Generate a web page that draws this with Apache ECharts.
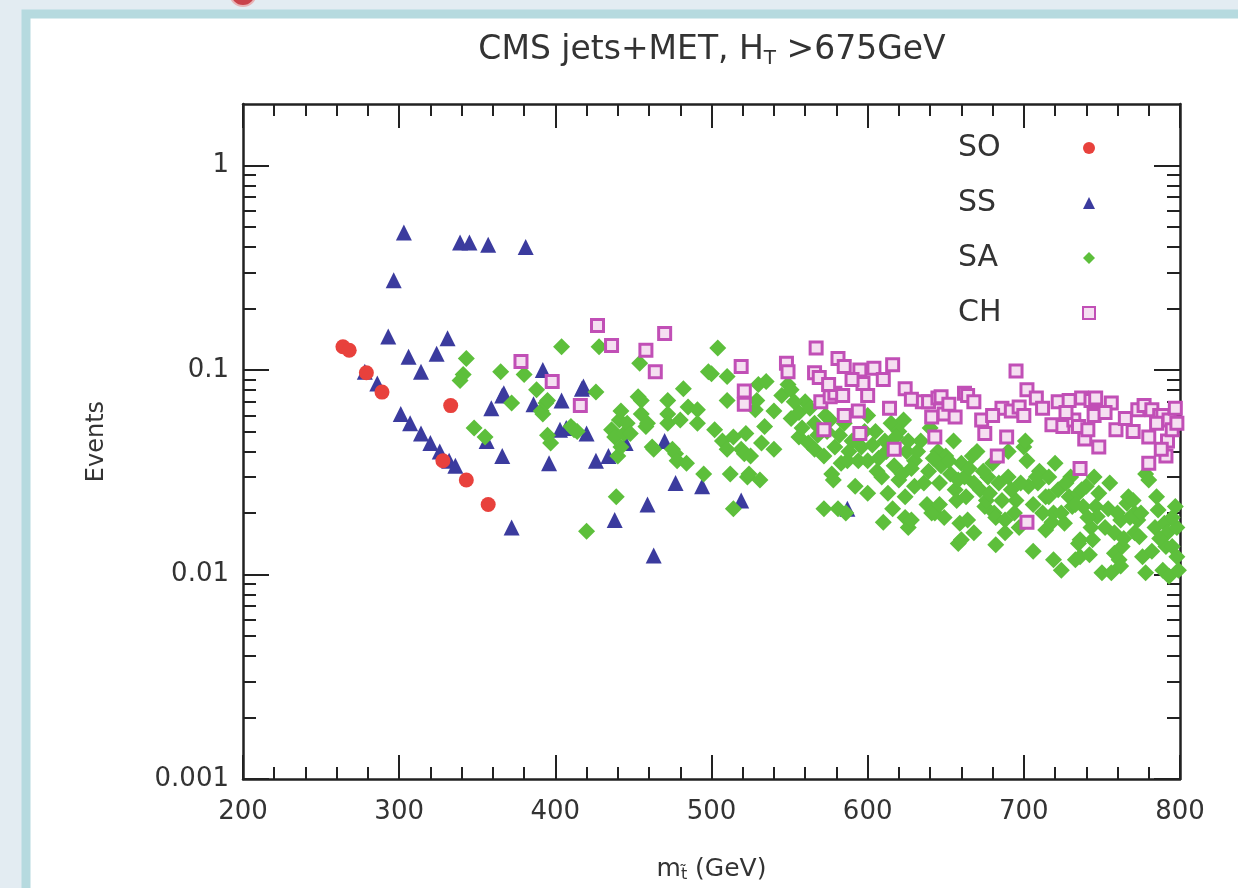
<!DOCTYPE html>
<html>
<head>
<meta charset="utf-8">
<script src="https://cdn.jsdelivr.net/npm/echarts@6/dist/echarts.min.js"></script>
<style>html,body{margin:0;padding:0;background:#e3ecf2;}#c{width:1238px;height:888px;}</style>
</head>
<body>
<div id="c"></div>
<script>
// ---- data (m_stop in GeV, events) ----
const xTicks = [200, 300, 400, 500, 600, 700, 800];
const yTickValues = [0.001, 0.01, 0.1, 1];
const yTickLabels = ['0.001', '0.01', '0.1', '1'];
const seriesNames = ['SO', 'SS', 'SA', 'CH'];

const SO = [[264,0.13],[268,0.125],[279,0.097],[289,0.078],[328,0.036],[333,0.067],[343,0.029],[357,0.022]];

const SS = [[303,0.47],[296.5,0.275],[339,0.42],[345,0.42],[357,0.41],[381,0.40],[293,0.146],[331,0.143],
[306,0.116],[324,0.12],[314,0.098],[278,0.098],[286,0.086],[301,0.061],[307,0.055],[314,0.049],[320,0.044],
[326,0.040],[332,0.036],[336,0.034],[366,0.075],[359,0.065],[367,0.077],[386,0.068],[392,0.1],[404,0.071],
[418,0.083],[403,0.051],[420,0.049],[356,0.045],[366,0.038],[396,0.035],[372,0.017],[426,0.036],[434,0.038],
[445,0.044],[470,0.045],[477,0.028],[494,0.027],[459,0.022],[438,0.0185],[463,0.0124],[519,0.023],[587,0.021],
[417,0.081],[407,0.052]];

const SA = [[343,0.114],[341,0.095],[339,0.089],[348,0.052],[355,0.047],[365,0.098],[372,0.069],[380,0.095],
[388,0.08],[391,0.063],[392,0.061],[394,0.069],[395,0.071],[395,0.048],[397,0.044],[404,0.13],[410,0.053],
[412,0.051],[414,0.05],[420,0.0163],[426,0.078],[428,0.13],[436,0.051],[438,0.047],[439,0.024],[440,0.038],
[441,0.057],[442,0.063],[442,0.042],[444,0.049],[446,0.055],[448,0.049],[453,0.074],[454,0.108],[455,0.071],
[455,0.061],[458,0.053],[459,0.055],[462,0.042],[463,0.041],[472,0.071],[472,0.061],[472,0.055],[475,0.041],
[477,0.039],[478,0.036],[480,0.057],[482,0.081],[484,0.035],[485,0.066],[491,0.064],[491,0.055],[495,0.031],
[498,0.098],[500,0.096],[502,0.051],[504,0.128],[507,0.045],[510,0.093],[510,0.071],[510,0.041],[512,0.031],
[514,0.021],[514,0.047],[519,0.041],[522,0.049],[521,0.039],[523,0.030],[524,0.031],[525,0.038],[528,0.064],
[529,0.071],[530,0.085],[531,0.029],[532,0.044],[534,0.053],[535,0.088],[540,0.063],[540,0.041],[545,0.075],
[549,0.085],[551,0.058],[551,0.08],[556,0.047],[556,0.062],[560,0.07],[562,0.044],[566,0.041],[566,0.055],
[572,0.038],[572,0.021],[573,0.060],[577,0.031],[578,0.029],[579,0.042],[581,0.021],[583,0.035],[586,0.020],
[587,0.036],[590,0.045],[592,0.027],[594,0.036],[600,0.036],[600,0.06],[605,0.05],[607,0.037],[609,0.030],
[610,0.018],[611,0.045],[613,0.025],[615,0.055],[620,0.029],[620,0.05],[623,0.057],[624,0.024],[624,0.019],
[625,0.04],[626,0.045],[626,0.017],[628,0.0185],[630,0.027],[630,0.036],[634,0.045],[638,0.022],[639,0.032],
[640,0.052],[641,0.020],[643,0.020],[645,0.04],[647,0.034],[649,0.019],[650,0.038],[653,0.031],[655,0.045],
[656,0.026],[657,0.023],[658,0.029],[658,0.0142],[660,0.0148],[660,0.035],[659,0.0178],[663,0.024],[664,0.0185],
[667,0.038],[668,0.028],[670,0.04],[675,0.0215],[676,0.023],[677,0.030],[680,0.035],[681,0.020],[682,0.019],
[688,0.0185],[688,0.016],[690,0.03],[690,0.04],[695,0.023],[697,0.017],[700,0.042],[701,0.045],[702,0.036],
[703,0.027],[709,0.028],[710,0.032],[714,0.024],[714,0.0165],[716,0.024],[718,0.018],[719,0.020],[719,0.0118],
[720,0.035],[722,0.026],[724,0.0105],[726,0.0178],[729,0.024],[730,0.03],[731,0.0215],[733,0.0118],[735,0.025],
[735,0.0142],[736,0.0148],[736,0.0122],[738,0.0215],[740,0.027],[742,0.0125],[743,0.017],[744,0.0148],[745,0.03],
[746,0.0215],[747,0.0192],[750,0.0102],[755,0.028],[756,0.0102],[758,0.016],[758,0.0127],[761,0.0118],
[762,0.0185],[762,0.011],[763,0.0137],[766,0.0223],[767,0.024],[770,0.023],[771,0.016],[771,0.020],[773,0.0185],
[774,0.0153],[776,0.0122],[778,0.031],[778,0.0102],[780,0.029],[784,0.017],[785,0.024],[786,0.0207],[789,0.0105],
[790,0.0178],[791,0.0137],[792,0.016],[793,0.0098],[795,0.0137],[797,0.0215],[798,0.017],[798,0.0122],
[553,0.07],[558,0.052],[563,0.065],[568,0.048],[574,0.05],[576,0.057],[582,0.048],[585,0.055],[588,0.04],
[596,0.042],[598,0.05],[603,0.043],[606,0.032],[612,0.04],[617,0.034],[618,0.047],[622,0.031],[628,0.033],
[632,0.04],[636,0.028],[642,0.037],[646,0.028],[652,0.036],[662,0.03],[665,0.033],[672,0.026],[674,0.032],
[678,0.025],[684,0.028],[686,0.023],[692,0.026],[694,0.02],[698,0.028],[706,0.022],[708,0.03],[712,0.02],
[716,0.03],[724,0.02],[727,0.028],[733,0.022],[737,0.026],[741,0.019],[748,0.025],[752,0.017],[754,0.021],
[760,0.02],[764,0.015],[768,0.019],[775,0.02],[782,0.013],[787,0.015],[795,0.019],[799,0.0105],[682,0.014],
[706,0.013],[668,0.016],[646,0.022],[616,0.021],[600,0.025]];

const CH = [[378,0.11],[398,0.088],[416,0.067],[427,0.165],[436,0.132],[458,0.125],[464,0.098],[470,0.151],
[519,0.104],[521,0.079],[521,0.068],[548,0.108],[549,0.098],[566,0.097],[567,0.128],[569,0.092],[570,0.070],
[572,0.051],[576,0.074],[579,0.077],[581,0.114],[584,0.075],[585,0.104],[585,0.060],[594,0.063],[595,0.100],
[595,0.049],[597,0.086],[600,0.075],[604,0.102],[614,0.065],[616,0.106],[617,0.041],[624,0.081],[635,0.070],
[639,0.070],[641,0.059],[643,0.047],[645,0.073],[647,0.074],[649,0.061],[656,0.059],[662,0.077],[664,0.075],
[673,0.057],[675,0.049],[683,0.038],[686,0.065],[689,0.047],[692,0.063],[695,0.099],[697,0.066],[702,0.080],
[702,0.018],[708,0.073],[718,0.054],[722,0.070],[725,0.053],[729,0.071],[732,0.057],[735,0.053],[736,0.033],
[737,0.073],[739,0.046],[741,0.051],[743,0.071],[746,0.073],[748,0.042],[756,0.069],[759,0.051],[773,0.064],
[777,0.067],[780,0.035],[780,0.047],[782,0.064],[787,0.060],[789,0.060],[793,0.057],[792,0.045],[791,0.038],
[795,0.051],[788,0.041],[575,0.085],[590,0.09],[610,0.09],[628,0.072],[652,0.068],[668,0.07],[680,0.06],
[700,0.06],[712,0.065],[727,0.062],[745,0.06],[752,0.062],[765,0.058],[770,0.05],[785,0.055],[798,0.055],[797,0.065]];

// ---- chart ----
const FONT = 'DejaVu Sans';
const TXT = '#333333';
const minorY = [];
for (let d = -3; d <= -1; d++) for (let k = 2; k <= 9; k++) minorY.push(+(k * Math.pow(10, d)).toPrecision(3));

function yAxisDef(pos, major, withLabels) {
  return {
    type: 'log', logBase: 10, min: 0.001, max: 2, position: pos,
    axisLine: { show: major, lineStyle: { color: '#222', width: 2.5 } },
    axisTick: { show: true, inside: true, length: major ? 26 : 13,
      customValues: major ? yTickValues : minorY, lineStyle: { color: '#222', width: 2 } },
    axisLabel: withLabels ? {
      show: true, customValues: yTickValues, fontFamily: FONT, fontSize: 26, color: TXT, margin: 14,
      formatter: v => yTickLabels[Math.round(Math.log10(v)) + 3]
    } : { show: false },
    splitLine: { show: false }, minorTick: { show: false },
    name: withLabels ? 'Events' : '', nameLocation: 'middle', nameGap: 134, nameRotate: 90,
    nameTextStyle: { fontFamily: FONT, fontSize: 24, color: TXT }
  };
}
function xAxisDef(pos, withLabels) {
  return {
    type: 'value', min: xTicks[0], max: xTicks[xTicks.length - 1], interval: 100, position: pos,
    axisLine: { show: true, lineStyle: { color: '#222', width: 2.5 } },
    axisTick: { show: true, inside: true, length: 24, lineStyle: { color: '#222', width: 2 } },
    minorTick: { show: true, splitNumber: 5, length: 12, lineStyle: { color: '#222', width: 2 } },
    axisLabel: withLabels ? { show: true, fontFamily: FONT, fontSize: 26, color: TXT, margin: 20 } : { show: false },
    splitLine: { show: false },
    name: withLabels ? '{a|m}{s|t\u0303}{a| (GeV)}' : '', nameLocation: 'middle', nameGap: 76,
    nameTextStyle: { fontFamily: FONT, color: TXT,
      rich: { a: { fontFamily: FONT, fontSize: 25, color: TXT },
              s: { fontFamily: FONT, fontSize: 16, color: TXT, verticalAlign: 'bottom', padding: [12, 0, 0, 0] } } }
  };
}

const chart = echarts.init(document.getElementById('c'), null, { renderer: 'canvas' });
chart.setOption({
  backgroundColor: '#e3ecf2',
  animation: false,
  graphic: [
    { type: 'rect', shape: { x: 26, y: 14, width: 1230, height: 900 }, z: -10,
      style: { fill: '#ffffff', stroke: '#b6dadf', lineWidth: 9 } },
    { type: 'circle', shape: { cx: 243, cy: -7, r: 13 }, z: -9,
      style: { fill: '#c9424a', stroke: '#e8b3b6', lineWidth: 2 } }
  ],
  title: {
    text: '{a|CMS jets+MET, H}{s|T}{a| >675GeV}',
    left: 707, top: 26, textAlign: 'center',
    textStyle: { fontFamily: FONT, color: TXT, fontWeight: 'normal',
      rich: { a: { fontFamily: FONT, fontSize: 33, fontWeight: 'normal', color: TXT },
              s: { fontFamily: FONT, fontSize: 20, fontWeight: 'normal', color: TXT, verticalAlign: 'bottom', padding: [18, 0, 0, 0] } } }
  },
  grid: { left: 243, right: 58, top: 104, bottom: 108, containLabel: false },
  xAxis: [xAxisDef('bottom', true), xAxisDef('top', false)],
  yAxis: [yAxisDef('left', true, true), yAxisDef('left', false, false), yAxisDef('right', true, false), yAxisDef('right', false, false)],
  legend: {
    orient: 'vertical', left: 953, top: 128, itemGap: 25, align: 'right',
    itemWidth: 12, itemHeight: 12, data: seriesNames,
    formatter: '{n|{name}}',
    textStyle: { fontFamily: FONT, fontSize: 30, color: TXT,
      rich: { n: { fontFamily: FONT, fontSize: 30, color: TXT, width: 120, align: 'left' } } }
  },
  series: [
    { name: 'SO', type: 'scatter', data: SO, symbol: 'circle', symbolSize: 15, z: 6,
      itemStyle: { color: '#e8413c', opacity: 1 } },
    { name: 'SS', type: 'scatter', data: SS, symbol: 'triangle', symbolSize: 16, z: 3,
      itemStyle: { color: '#3b3b9e', opacity: 1 } },
    { name: 'SA', type: 'scatter', data: SA, symbol: 'diamond', symbolSize: 17, z: 4,
      itemStyle: { color: '#5dbf3b', opacity: 1 } },
    { name: 'CH', type: 'scatter', data: CH, symbol: 'rect', symbolSize: 12, z: 5,
      itemStyle: { color: '#f5dff1', borderColor: '#c14fb6', borderWidth: 3, opacity: 1 } }
  ]
});
</script>
</body>
</html>
